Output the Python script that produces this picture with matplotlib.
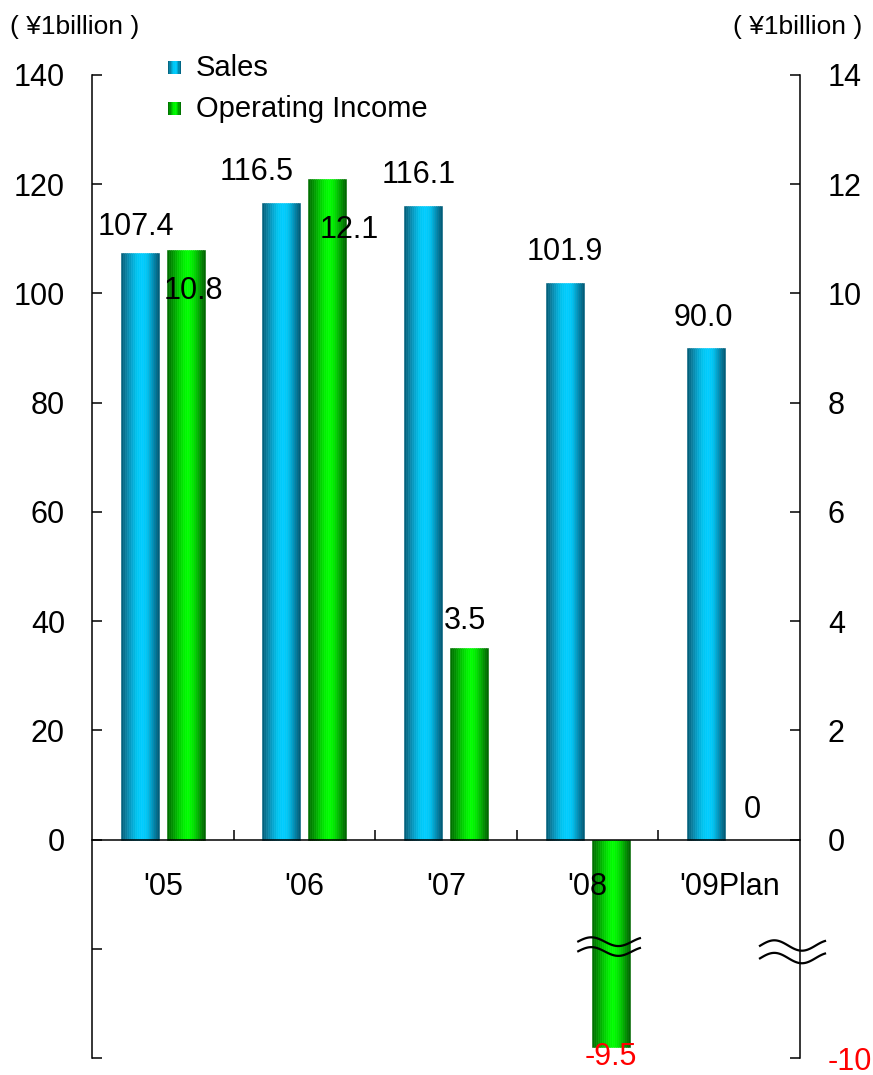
import numpy as np
import matplotlib.pyplot as plt
from matplotlib.colors import LinearSegmentedColormap
from matplotlib.patches import Rectangle
import matplotlib.transforms as mtransforms

# ---- data -------------------------------------------------------------
years = ["'05", "'06", "'07", "'08", "'09Plan"]
sales = [107.4, 116.5, 116.1, 101.9, 90.0]          # ¥1 billion, left axis
op_income = [10.8, 12.1, 3.5, -9.5, 0.0]            # ¥1 billion, right axis
sales_labels = ["107.4", "116.5", "116.1", "101.9", "90.0"]
op_labels = ["10.8", "12.1", "3.5", "-9.5", "0"]
left_ticks = [-40, -20, 0, 20, 40, 60, 80, 100, 120, 140]
left_ticklabels = ["", "", "0", "20", "40", "60", "80", "100", "120", "140"]
right_ticks = [-10, 0, 2, 4, 6, 8, 10, 12, 14]
right_ticklabels = ["-10", "0", "2", "4", "6", "8", "10", "12", "14"]

# label offsets in pixels (dx, dy) relative to bar end
sales_off = [(-4, 26), (-25, 31), (-4, 31), (0, 31), (-3, 30)]
op_off = [(8, -41), (22, -51), (-4, 27), (0, -10), (0, 30)]

FONT = "Liberation Sans"
plt.rcParams["font.family"] = [FONT, "DejaVu Sans"]

sales_cmap = LinearSegmentedColormap.from_list(
    "sales_cyl",
    [(0.0, "#005a76"), (0.12, "#0a7d9c"), (0.28, "#04a6cf"), (0.42, "#00c6f2"),
     (0.55, "#00ccff"), (0.68, "#00c4f2"), (0.8, "#0099c2"), (0.9, "#00779a"),
     (1.0, "#005672")])
op_cmap = LinearSegmentedColormap.from_list(
    "op_cyl",
    [(0.0, "#006a00"), (0.14, "#009200"), (0.3, "#00c800"), (0.44, "#00f000"),
     (0.55, "#00ff00"), (0.68, "#00e600"), (0.8, "#00b400"), (0.9, "#008800"),
     (1.0, "#006000")])


def gradient_bar(axis, xc, height, width, cmap, n=19, **kw):
    """Draw one bar as thin vertical slices to give a cylinder shading."""
    edges = np.linspace(xc - width / 2, xc + width / 2, n + 1)
    for k in range(n):
        c = cmap((k + 0.5) / n)
        axis.bar(edges[k], height, width=edges[k + 1] - edges[k], align="edge",
                 color=c, edgecolor=c, linewidth=0.4, **kw)


def gradient_swatch(fig, x0, y0, w, h, cmap, n=10):
    """Small shaded square in figure pixel coordinates."""
    W, H = fig.bbox.width, fig.bbox.height
    for k in range(n):
        c = cmap((k + 0.5) / n)
        fig.add_artist(Rectangle(((x0 + k * w / n) / W, 1 - (y0 + h) / H),
                                 (w / n) / W + 0.0003, h / H,
                                 transform=fig.transFigure, color=c, lw=0))


fig = plt.figure(figsize=(8.73, 10.75), dpi=100)
ax = fig.add_axes([92 / 873, 1 - 1058 / 1075, 708 / 873, 983 / 1075])

ax.set_xlim(-0.5, len(years) - 0.5)
ax.set_ylim(-40, 140)

# right axis: positive range linear, negative range compressed (broken)
def fwd(v):
    v = np.asarray(v, dtype=float)
    return np.where(v >= 0, v, v * 0.4)


def inv(u):
    u = np.asarray(u, dtype=float)
    return np.where(u >= 0, u, u / 0.4)


ax2 = ax.twinx()
ax2.set_yscale("function", functions=(fwd, inv))
ax2.set_ylim(-10, 14)
# left axes (category labels, break marks) drawn above the income bars
ax.set_zorder(ax2.get_zorder() + 1)
ax.patch.set_visible(False)

off = 0.162
bw = 0.268
x = np.arange(len(years))
for i in range(len(years)):
    gradient_bar(ax, x[i] - off, sales[i], bw, sales_cmap)
    if op_income[i] != 0:
        gradient_bar(ax2, x[i] + off, op_income[i], bw, op_cmap)

for i in range(len(years)):
    ax.annotate(sales_labels[i], xy=(x[i] - off, sales[i]), xytext=sales_off[i],
                textcoords="offset pixels", ha="center", va="center",
                fontsize=22, color="black")
    ax2.annotate(op_labels[i], xy=(x[i] + off, op_income[i]), xytext=op_off[i],
                 textcoords="offset pixels", ha="center", va="center",
                 fontsize=22, color="red" if op_income[i] < 0 else "black",
                 zorder=5)

# spines
lw_sp = 1.1
for a in (ax, ax2):
    a.spines["top"].set_visible(False)
ax.spines["right"].set_visible(False)
ax2.spines["left"].set_visible(False)
ax2.spines["bottom"].set_visible(False)
ax.spines["left"].set_linewidth(lw_sp)
ax2.spines["right"].set_linewidth(lw_sp)
ax.spines["bottom"].set_position(("data", 0))
ax.spines["bottom"].set_linewidth(lw_sp)

# left y ticks
ax.set_yticks(left_ticks)
ax.set_yticklabels(left_ticklabels)
ax.tick_params(axis="y", direction="in", length=7.2, width=lw_sp, pad=19.5,
               labelsize=22)

# right y ticks
ax2.set_yticks(right_ticks)
ax2.set_yticklabels(right_ticklabels)
ax2.yaxis.set_minor_locator(plt.NullLocator())
ax2.tick_params(axis="y", direction="in", length=7.2, width=lw_sp, pad=20,
                labelsize=22)
for lab, val in zip(ax2.get_yticklabels(), right_ticks):
    if val < 0:
        lab.set_color("red")

# x axis: separators as major ticks, year names as minor tick labels
ax.set_xticks(x[:-1] + 0.5)
ax.set_xticklabels([])
ax.set_xticks(x, minor=True)
ax.set_xticklabels(years, minor=True)
ax.tick_params(axis="x", which="major", direction="in", length=7.2, width=lw_sp)
ax.tick_params(axis="x", which="minor", length=0, pad=23.6, labelsize=22)

# break marks
def wave(t):
    return np.sin(2 * np.pi * (t - 0.22) / 0.85 + np.pi / 2)


t = np.linspace(0, 1, 80)
bx0 = x[3] + off - 0.235
bx1 = x[3] + off + 0.215
for yc in (-18.7, -20.5):
    ax.plot(bx0 + (bx1 - bx0) * t, yc + 0.8 * wave(t), color="black", lw=1.6,
            zorder=6, solid_capstyle="butt")

trans = mtransforms.blended_transform_factory(ax.transAxes, ax.transData)
for yc in (-19.4, -21.7):
    ax.plot(0.9435 + (1.0353 - 0.9435) * t, yc + 0.95 * wave(t), color="black",
            lw=1.6, transform=trans, clip_on=False, zorder=6)

# unit captions
fig.text(10 / 873, 1 - 27 / 1075, "( ¥1billion )", fontsize=19,
         ha="left", va="center")
fig.text(862 / 873, 1 - 27 / 1075, "( ¥1billion )", fontsize=19,
         ha="right", va="center")

# legend
gradient_swatch(fig, 168, 61, 13, 13, sales_cmap)
gradient_swatch(fig, 168, 102, 13, 13, op_cmap)
fig.text(196 / 873, 1 - 68 / 1075, "Sales", fontsize=21, ha="left", va="center")
fig.text(196 / 873, 1 - 109 / 1075, "Operating Income", fontsize=21,
         ha="left", va="center")

fig.savefig("out.png", dpi=100)
